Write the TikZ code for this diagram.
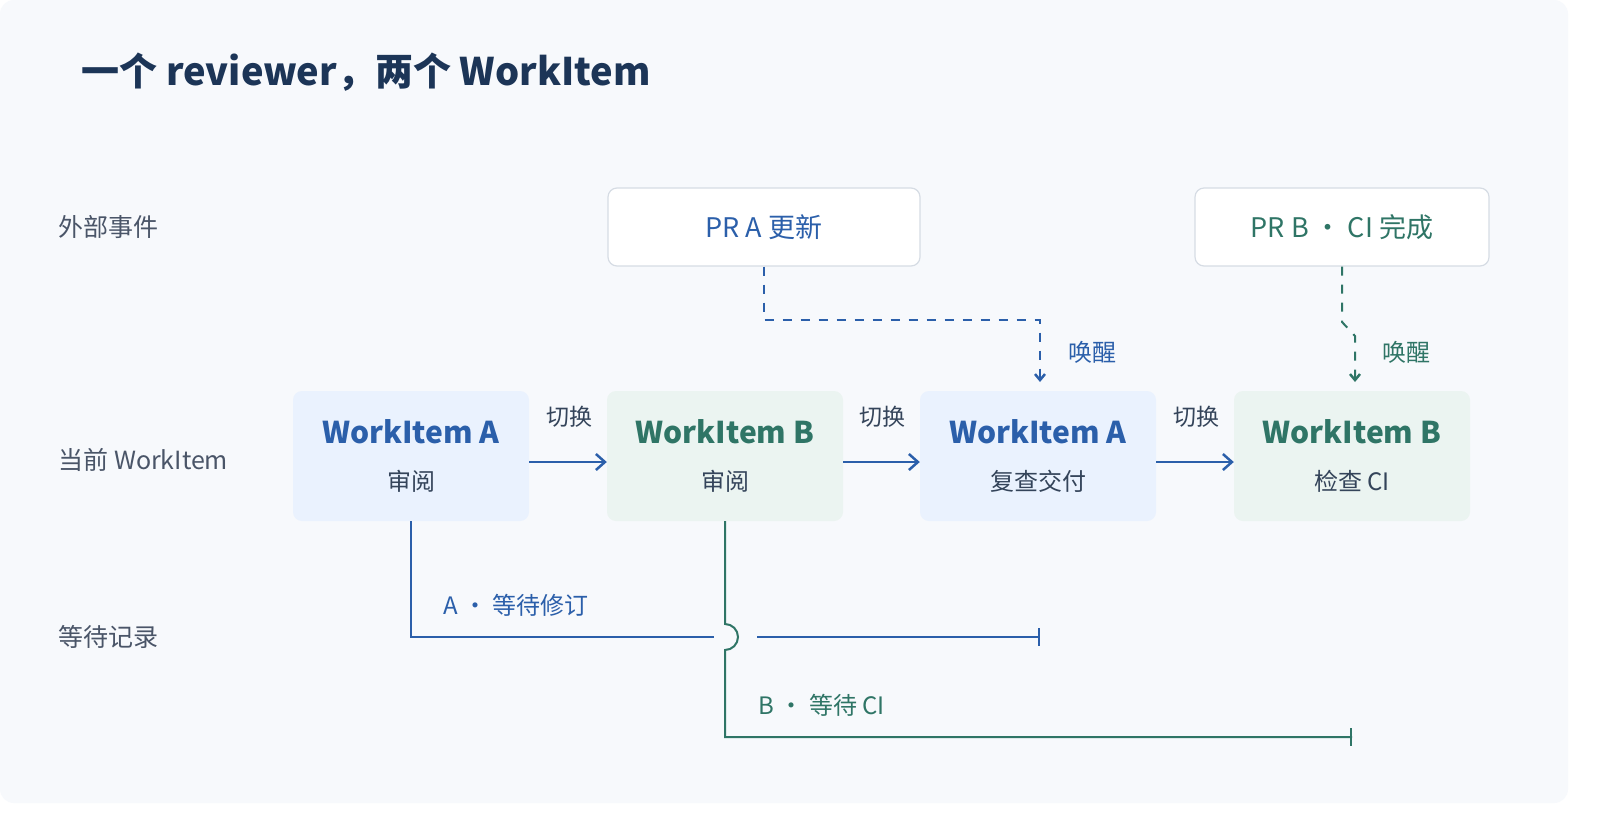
\documentclass[tikz,border=0pt]{standalone}
\usepackage{fontspec}
\setmainfont{Noto Sans CJK SC}
\usetikzlibrary{arrows.meta}
\definecolor{bg}{HTML}{F7F9FC}
\definecolor{bl}{HTML}{2B5FAA}
\definecolor{gr}{HTML}{2F7566}
\definecolor{tt}{HTML}{1C3557}
\definecolor{lb}{HTML}{4A5568}
\definecolor{sub}{HTML}{34445A}
\definecolor{bfa}{HTML}{EAF2FE}
\definecolor{bfb}{HTML}{EBF4F1}
\definecolor{ebd}{HTML}{D6DCE4}
\begin{document}
\begin{tikzpicture}[x=1pt,y=-1pt,
 box/.style={rounded corners=9pt,minimum width=236pt,minimum height=130pt,draw=none},
 ttl/.style={font=\fontsize{30}{34}\selectfont\bfseries},
 sbt/.style={font=\fontsize{24}{28}\selectfont,text=sub},
 ev/.style={rounded corners=9pt,fill=white,draw=ebd,line width=1.2pt,minimum height=78pt,font=\fontsize{27}{32}\selectfont},
 row/.style={anchor=west,text=lb,font=\fontsize{25}{30}\selectfont},
 sw/.style={font=\fontsize{23}{28}\selectfont,text=sub},
 arr/.style={-{Straight Barb[length=9pt,width=16pt,line width=2.5pt]},line width=2.2pt,bl},
 dsh/.style={dashed,dash pattern=on 9pt off 9pt,line width=2pt,-{Straight Barb[length=6pt,width=10pt,line width=2.5pt]}},
 wl/.style={line width=2pt},
 lab/.style={font=\fontsize{24}{28}\selectfont}]
\useasboundingbox (0,0) rectangle (1600,820);
\fill[white] (0,0) rectangle (1600,820);
\fill[bg,rounded corners=14pt] (0,0) rectangle (1568,803);
\node[anchor=west,text=tt,font=\fontsize{38}{44}\selectfont\bfseries] (title) at (78,72) {一个 reviewer，两个 WorkItem};
\node[row] (r1) at (55,227) {外部事件};
\node[row] (r2) at (55,460) {当前 WorkItem};
\node[row] (r3) at (55,637) {等待记录};
\node[box,fill=bfa] (a1) at (411,456) {};
\node[ttl,text=bl] (a1t) at (411,432) {WorkItem A};
\node[sbt] (a1s) at (411,481) {审阅};
\node[box,fill=bfb] (b1) at (725,456) {};
\node[ttl,text=gr] (b1t) at (725,432) {WorkItem B};
\node[sbt] (b1s) at (725,481) {审阅};
\node[box,fill=bfa] (a2) at (1038,456) {};
\node[ttl,text=bl] (a2t) at (1038,432) {WorkItem A};
\node[sbt] (a2s) at (1038,481) {复查交付};
\node[box,fill=bfb] (b2) at (1352,456) {};
\node[ttl,text=gr] (b2t) at (1352,432) {WorkItem B};
\node[sbt] (b2s) at (1352,481) {检查 CI};
\node[ev,minimum width=312pt,text=bl] (e1) at (764,227) {PR A 更新};
\node[ev,minimum width=294pt,text=gr] (e2) at (1342,227) {PR B ・ CI 完成};
\foreach \s/\t/\x in {a1/b1/569,b1/a2/882,a2/b2/1196}{
 \draw[arr] (\s.east|-0,462) -- (\t.west|-0,462);
 \node[sw] at (\x,417) {切换};}
\coordinate (d1) at (1040,382);
\draw[dsh,bl] (e1.south) -- (764,320) -- (1040,320) -- (d1);
\node[lab,text=bl] (w1) at (1092,352) {唤醒};
\coordinate (d2) at (1355,382);
\draw[dsh,gr] (e2.south) -- (1342,322) -- (1355,336) -- (d2);
\node[lab,text=gr] (w2) at (1406,352) {唤醒};
\coordinate (ae) at (1040,637);
\draw[wl,bl] (411,521) -- (411,637) -- (714,637);
\draw[wl,bl,-{Bar[width=18pt]}] (757,637) -- (ae);
\node[lab,text=bl,anchor=west] (la) at (440,605) {A ・ 等待修订};
\coordinate (be) at (1352,737);
\draw[wl,gr] (725,521) -- (725,624) arc[start angle=90,end angle=-90,radius=13pt] -- (725,737) -- (be);
\draw[wl,gr,-{Bar[width=18pt]}] (1340,737) -- (be);
\node[lab,text=gr,anchor=west] (lb2) at (755,705) {B ・ 等待 CI};
\end{tikzpicture}
\end{document}
